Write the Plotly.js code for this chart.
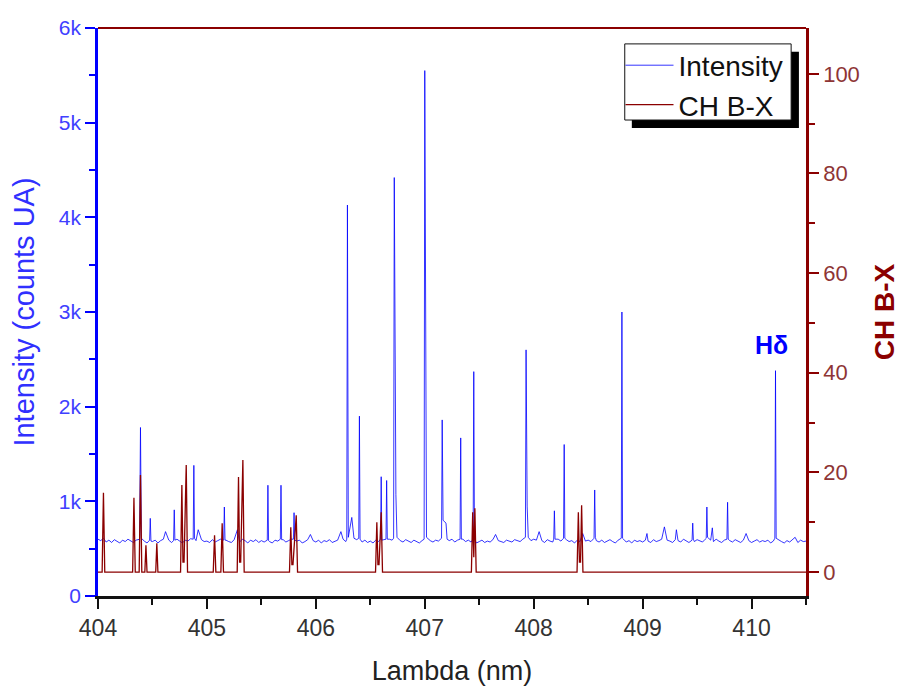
<!DOCTYPE html>
<html>
<head>
<meta charset="utf-8">
<script src="https://cdn.plot.ly/plotly-3.0.1.min.js"></script>
<style>html,body{margin:0;padding:0;background:#fff;}#chart{width:903px;height:686px;}</style>
</head>
<body>
<div id="chart"></div>
<script>
// Intensity spectrum: background readings on a 0.025 nm grid starting at 404.000 nm
const baseStart = 404.0;
const baseStep = 0.025;
const baseIntensity = [
600,585,610,570,590,565,595,580,560,590,575,600,585,565,590,570,605,580,560,595,
575,590,560,585,600,570,590,565,580,600,575,560,590,580,605,570,585,560,595,575,
580,565,595,570,585,600,560,590,575,565,595,580,570,600,585,560,590,575,595,565,
585,570,600,575,560,590,580,565,595,570,585,600,565,580,590,560,575,595,570,585,
570,590,560,585,575,595,565,580,590,570,600,575,590,620,610,595,585,570,590,565,
580,560,590,575,565,595,580,600,590,575,560,585,570,595,580,565,590,575,560,585,
620,600,585,570,590,580,565,595,575,585,600,570,590,580,600,575,590,570,585,560,
575,590,565,580,570,595,560,585,575,565,590,580,570,595,585,575,600,590,580,585,
600,590,575,585,565,595,580,570,590,600,580,570,595,575,585,560,590,575,600,580,
590,575,600,585,570,590,565,580,595,575,560,590,580,600,570,585,560,590,575,585,
570,590,580,565,595,575,585,600,570,590,580,565,595,585,570,600,580,565,590,575,
595,580,570,600,585,590,575,600,580,565,590,575,585,570,595,580,565,590,575,585,
565,580,595,570,585,575,590,560,580,600,590,575,560,585,570,595,580,565,590,575,
580];

// Emission lines (nm, counts), including the foot points of each line
const lineLambda = [
404.382,404.39,404.398, 404.474,404.48,404.486, 404.62, 404.694,404.70,404.706, 404.874,404.88,404.886, 404.92,
405.154,405.16,405.166, 405.28, 405.554,405.56,405.566, 405.674,405.68,405.686, 405.794,405.80,405.806, 405.95,
406.23, 406.284,406.29,406.294,406.298, 406.33, 406.394,406.40,406.406, 406.594,406.60,406.606, 406.644,406.65,406.656,
406.714,406.72,406.735,406.745, 406.994,407.00,407.008,407.016, 407.154,407.16,407.168,407.195,407.205,
407.324,407.33,407.336, 407.444,407.45,407.456, 407.65, 407.924,407.93,407.94,407.95, 408.05,
408.184,408.19,408.196, 408.274,408.28,408.286, 408.45, 408.554,408.56,408.566, 408.804,408.81,408.816,
409.04, 409.20, 409.31, 409.454,409.46,409.466, 409.584,409.59,409.596, 409.64, 409.774,409.78,409.786, 409.95,
410.214,410.22,410.226, 410.40];
const lineIntensity = [
600,1780,610, 590,820,580, 680, 585,910,590, 600,1380,610, 700,
590,940,590, 700, 590,1170,585, 600,1170,595, 600,880,590, 650,
680, 600,4130,1260,620, 830, 610,1900,600, 600,1260,590, 600,1220,600,
610,4420,1070,620, 600,5550,1360,620, 610,1860,800,770,600,
600,1670,600, 600,2370,600, 650, 620,2600,950,620, 680,
600,900,600, 610,1600,610, 660, 610,1120,620, 610,3000,610,
660, 730, 700, 590,770,600, 610,940,620, 720, 600,990,600, 660,
610,2380,610, 620];

// CH B-X simulated band (nm, arb.)
const chLambda = [
404.00,404.038,404.05,404.062,404.318,404.33,404.342,404.378,404.39,404.402,404.43,404.44,404.45,404.53,404.54,404.55,
404.758,404.77,404.78,404.79,404.81,404.822,405.058,405.07,405.082,405.128,405.14,405.152,405.278,405.29,405.30,405.31,405.33,405.342,
405.758,405.77,405.78,405.79,405.82,405.832,406.548,406.56,406.57,406.58,406.60,406.612,407.428,407.44,407.45,407.46,407.472,
408.398,408.41,408.42,408.43,408.44,408.452,410.50];
const chValue = [
0,0,15.9,0,0,14.9,0,0,19.5,0,0,5.4,0,0,5.8,0,
0,17.5,2,2,21.5,0,0,7.4,0,0,9.8,0,0,19.1,2,2,22.5,0,
0,9.0,1.5,1.5,11.4,0,0,10.0,1.5,1.5,12.0,0,0,12.0,3,12.8,0,
0,12.0,2,2,13.4,0,0];

const xTitle = 'Lambda (nm)';
const yTitle = 'Intensity (counts UA)';
const y2Title = 'CH B-X';
const seriesNames = ['Intensity', 'CH B-X'];
const lineLabel = 'Hδ';

// merge background grid with the emission lines
const pts = [];
baseIntensity.forEach((v, i) => {
  const x = +(baseStart + i * baseStep).toFixed(3);
  if (!lineLambda.some(l => Math.abs(l - x) < 0.009)) pts.push([x, v]);
});
lineLambda.forEach((l, i) => pts.push([l, lineIntensity[i]]));
pts.sort((a, b) => a[0] - b[0]);

const BLUE = '#0000ff';
const RED = '#8b0000';
const FONT = 'Liberation Sans, Arial, sans-serif';

const traces = [
  {x: pts.map(p => p[0]), y: pts.map(p => p[1]), type: 'scatter', mode: 'lines', name: seriesNames[0],
   line: {color: BLUE, width: 0.8}, yaxis: 'y'},
  {x: chLambda, y: chValue, type: 'scatter', mode: 'lines', name: seriesNames[1],
   line: {color: RED, width: 1.3}, yaxis: 'y2'}
];

const layout = {
  width: 903, height: 686,
  margin: {l: 98, r: 97, t: 28, b: 90},
  paper_bgcolor: '#fff', plot_bgcolor: '#fff',
  font: {family: FONT, size: 20, color: '#333'},
  showlegend: true,
  legend: {x: 0.738, y: 0.978, xanchor: 'left', yanchor: 'top',
    bgcolor: 'rgba(0,0,0,0)', borderwidth: 0,
    font: {family: FONT, size: 28, color: '#111'}, tracegroupgap: 0, itemwidth: 48},
  xaxis: {range: [404, 410.5], dtick: 1, tick0: 404, showgrid: false, zeroline: false,
    showline: true, linecolor: '#111', linewidth: 2.5,
    ticks: 'outside', ticklen: 10, tickwidth: 2, tickcolor: '#111',
    minor: {dtick: 0.5, ticks: 'outside', ticklen: 6, tickwidth: 2, tickcolor: '#111'},
    tickfont: {family: FONT, size: 23, color: '#333'},
    title: {text: xTitle, font: {family: FONT, size: 27, color: '#222'}, standoff: 24}},
  yaxis: {range: [0, 6000], dtick: 1000, tick0: 0, tickformat: '~s', showgrid: false, zeroline: false,
    showline: true, linecolor: BLUE, linewidth: 2.5,
    ticks: 'outside', ticklen: 10, tickwidth: 2, tickcolor: BLUE,
    minor: {dtick: 500, ticks: 'outside', ticklen: 6, tickwidth: 2, tickcolor: BLUE},
    tickfont: {family: FONT, size: 21, color: '#4040ff'},
    title: {text: yTitle, font: {family: FONT, size: 29, color: '#3030ff'}, standoff: 16}},
  yaxis2: {overlaying: 'y', side: 'right', range: [-4.8, 109.2], dtick: 20, tick0: 0,
    showgrid: false, zeroline: false, showline: true, linecolor: RED, linewidth: 2.5,
    ticks: 'outside', ticklen: 10, tickwidth: 2, tickcolor: RED,
    minor: {dtick: 10, ticks: 'outside', ticklen: 6, tickwidth: 2, tickcolor: RED},
    tickfont: {family: FONT, size: 22, color: '#8e3535'},
    title: {text: '<b>' + y2Title + '</b>', font: {family: FONT, size: 28, color: '#8b0000'}, standoff: 16}},
  shapes: [
    {type: 'line', xref: 'paper', yref: 'paper', x0: 0, x1: 1, y0: 1, y1: 1,
     line: {color: RED, width: 2}},
    {type: 'rect', xref: 'paper', yref: 'paper', x0: 0.754, x1: 0.990, y0: 0.824, y1: 0.958,
     fillcolor: '#000', line: {width: 0}, layer: 'above'},
    {type: 'rect', xref: 'paper', yref: 'paper', x0: 0.744, x1: 0.979, y0: 0.838, y1: 0.972,
     fillcolor: '#fff', line: {color: '#111', width: 1}, layer: 'above'}
  ],
  annotations: [
    {x: 410.18, y: 2650, xref: 'x', yref: 'y', text: '<b>' + lineLabel + '</b>', showarrow: false,
     font: {family: FONT, size: 25, color: BLUE}}
  ]
};

Plotly.newPlot('chart', traces, layout, {displayModeBar: false, responsive: false});
</script>
</body>
</html>
